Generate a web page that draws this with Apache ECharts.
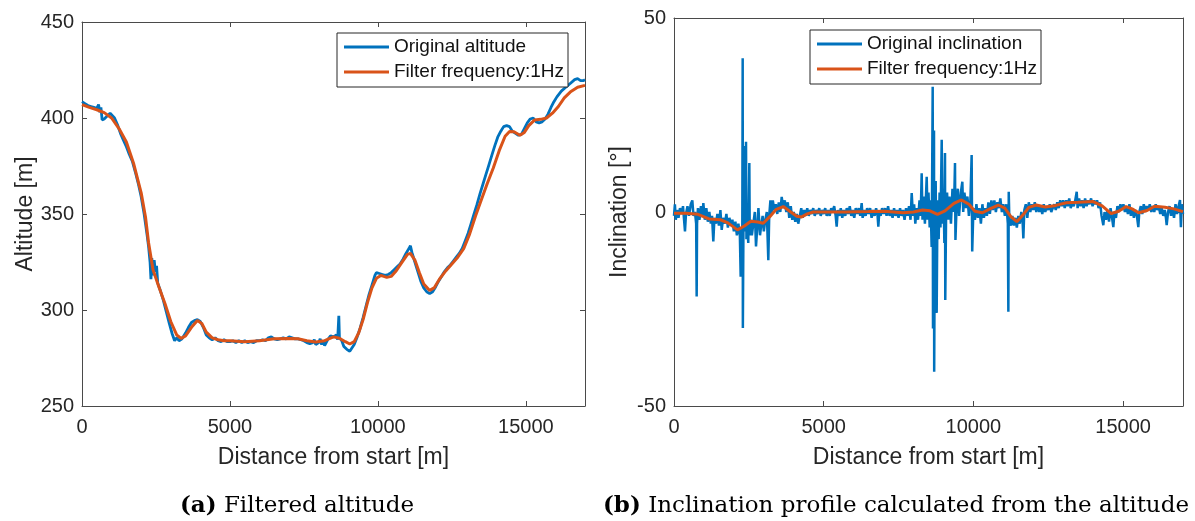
<!DOCTYPE html>
<html><head><meta charset="utf-8">
<script src="https://cdn.jsdelivr.net/npm/echarts@6/dist/echarts.min.js"></script>
<style>html,body{margin:0;padding:0;background:#fff}#c{width:1195px;height:521px}</style>
</head><body><div id="c"></div>
<script>
// ---------------- data ----------------
const xRange = [0, 17000];           // distance from start [m]
const xTickStep = 5000;
const altRange = [250, 450];
const altTickStep = 50;
const incRange = [-50, 50];
const incTickStep = 50;

const seriesNames = ['Original altitude', 'Filter frequency:1Hz', 'Original inclination'];
const captionA = ['(a)', 'Filtered altitude'];
const captionB = ['(b)', 'Inclination profile calculated from the altitude'];

// original altitude [distance, altitude]
const altRaw = [[0,408.5],[100,407.5],[200,406.5],[300,406],[400,405.5],[500,405],[560,407],[600,403],[640,405.5],[680,399],[750,399.5],[850,401],[950,402.5],[1000,402],[1100,400],[1200,396.5],[1300,392],[1400,388.5],[1500,385],[1600,381],[1700,377.5],[1800,372],[1900,366],[2000,359],[2100,350],[2200,339],[2250,333],[2300,325],[2330,316],[2360,327],[2400,318],[2440,326],[2480,320],[2520,323],[2560,314],[2650,310],[2750,305],[2850,299],[2950,293],[3050,287.5],[3130,284],[3200,285.5],[3280,284],[3380,285],[3500,288],[3600,291],[3700,293.5],[3800,294.5],[3900,295],[4000,294],[4100,291],[4200,287],[4300,285.5],[4400,284.5],[4500,285.5],[4600,284],[4700,283.5],[4800,284.5],[4900,283.5],[5000,283.5],[5100,284],[5200,283],[5300,284],[5400,283],[5500,284],[5600,283],[5700,283.5],[5800,283],[5900,284],[6000,284],[6100,284.5],[6200,284],[6300,285.5],[6400,286],[6500,285],[6600,284.5],[6700,285],[6800,285.5],[6900,285],[7000,286],[7100,285.5],[7200,285],[7300,285],[7400,284.5],[7500,284],[7600,283],[7700,282.5],[7800,283],[7850,284.5],[7900,282],[8000,283],[8050,285],[8100,282],[8150,284],[8200,281.5],[8300,284.5],[8400,286.5],[8500,286],[8600,287],[8640,284.5],[8680,297],[8700,285.5],[8780,284],[8850,281],[8900,282],[8950,279.5],[9000,280.5],[9050,278.5],[9100,279],[9200,282],[9300,286],[9400,290.5],[9500,296],[9600,302],[9700,308],[9800,313],[9900,318],[9950,319.5],[10050,319],[10150,318.5],[10250,318],[10350,318.5],[10450,319.5],[10550,321],[10650,322.5],[10750,324],[10850,326.5],[10950,329.5],[11050,332],[11100,333.5],[11150,330],[11250,325],[11350,320],[11450,315],[11550,311.5],[11650,309.5],[11750,308.5],[11850,309.5],[11950,312],[12050,315],[12150,317.5],[12250,320],[12350,322],[12450,323.5],[12550,325.5],[12650,327.5],[12750,329.5],[12850,332],[12950,336],[13050,340],[13150,345],[13250,350],[13350,355],[13450,360.5],[13550,365.5],[13650,370.5],[13750,375.5],[13850,380.5],[13950,385.5],[14050,390],[14150,393],[14250,395.5],[14350,396],[14450,395.5],[14550,393],[14650,392],[14750,391],[14850,391.5],[14950,394.5],[15050,397.5],[15150,399.5],[15250,400],[15350,398],[15450,397.5],[15550,398],[15650,399.5],[15750,402],[15850,405.5],[15950,408.5],[16050,411],[16200,414],[16350,416],[16500,418],[16650,420],[16750,420.5],[16850,419.5],[16950,419.5],[17000,420]];

// filtered altitude [distance, altitude]
const altFilt = [[0,407],[250,405.5],[500,404.3],[750,402.8],[1000,400],[1250,394.5],[1500,387.5],[1750,376],[2000,361],[2150,348],[2250,335],[2400,321],[2600,312],[2800,303.5],[3000,294],[3200,287],[3350,285.2],[3500,286.5],[3700,291],[3900,294.5],[4050,293],[4200,288.5],[4400,285.5],[4600,284.5],[4800,284],[5000,284],[5500,283.5],[6000,284],[6500,285],[7000,285.2],[7300,285],[7600,284],[7900,283.3],[8200,284],[8500,286],[8700,285.3],[8900,283.5],[9050,282.3],[9200,283.5],[9350,288],[9500,295],[9650,304],[9800,311.5],[9950,316.5],[10100,318],[10300,317],[10450,317.5],[10600,320],[10800,324.5],[11000,329],[11100,329.5],[11250,326],[11400,319.5],[11550,313.5],[11750,310.2],[11900,311.5],[12100,316.5],[12300,320.5],[12500,324],[12700,327.5],[12900,332],[13100,339.5],[13300,349],[13500,357.5],[13700,366],[13900,374],[14100,383],[14300,390.5],[14450,393],[14600,392.8],[14800,391],[14950,392.5],[15100,396],[15300,399],[15500,399.3],[15700,400],[15900,402.5],[16100,406],[16300,410.5],[16500,413.5],[16750,416],[17000,417]];

// original inclination [distance, degrees]
const incRaw = [[0,-1],[30,2],[60,-2],[100,0.5],[150,-1.5],[200,1],[260,-0.5],[300,1.5],[367,-5],[400,-0.5],[450,1.5],[500,-1],[560,2],[612,3],[650,-1],[700,0],[740,-3],[757,-21.8],[770,-3],[800,1],[850,-2],[900,1.5],[950,-1],[980,2.3],[1030,-2],[1080,1],[1130,-2.5],[1180,0],[1230,-3],[1270,-1],[1313,-7.6],[1350,-1.5],[1400,-3],[1450,-0.5],[1500,-3.5],[1550,0.5],[1593,-4.6],[1640,-1.5],[1700,-3],[1750,-0.5],[1800,-4],[1850,-1.5],[1900,-3.5],[1950,-2],[2000,-5],[2050,-2.5],[2100,-6],[2150,-3],[2200,-6],[2227,-16.7],[2250,-4],[2280,-8],[2294,39.6],[2300,-29.9],[2320,-3],[2340,17],[2360,-5],[2380,-2],[2405,18.1],[2420,-7],[2450,-3],[2480,-8],[2516,12.6],[2530,-6],[2570,-2],[2600,-6],[2650,-3],[2700,0],[2739,-8.9],[2780,-4],[2820,1],[2872,-6],[2920,-3],[2960,-1],[3000,-5],[3050,-2],[3100,0],[3150,-12.4],[3180,-1],[3220,3],[3260,-0.5],[3300,3],[3350,0.5],[3400,2],[3450,-0.5],[3500,2.5],[3550,0],[3597,3.9],[3650,1],[3700,3],[3750,0],[3800,2.5],[3850,-1.5],[3900,1.5],[3950,-2],[4000,0],[4050,-2.5],[4100,-0.5],[4150,-3],[4200,-1],[4250,1],[4300,-1.5],[4350,0.5],[4400,-1],[4450,1],[4500,-1],[4550,0.5],[4600,-0.5],[4650,1],[4700,-1],[4750,0.5],[4800,-0.5],[4850,1],[4900,-1],[4950,0.5],[5000,-0.5],[5050,1],[5100,-1],[5150,0.5],[5200,-1],[5250,1],[5300,0],[5350,1.5],[5400,-1],[5433,-3.8],[5470,0.5],[5520,-1],[5570,1],[5620,-1.5],[5670,0.5],[5720,-1],[5770,1],[5820,-0.5],[5870,1.5],[5920,-1],[5970,0.5],[6020,-1.5],[6070,1],[6120,-0.5],[6170,1],[6220,-1],[6268,2.3],[6300,-1.5],[6350,0.5],[6400,-1],[6450,1],[6500,-0.5],[6550,1],[6600,-1.5],[6650,0.5],[6700,-1],[6750,1],[6800,-1],[6824,-3.8],[6860,0.5],[6900,-1],[6950,1],[7000,-0.5],[7050,1],[7100,-1],[7150,1.5],[7200,-1],[7250,0.5],[7300,-1.5],[7350,1],[7400,-1],[7450,0.5],[7500,-1.5],[7550,1],[7600,-1],[7650,0.5],[7700,-2],[7750,1],[7800,-1],[7850,1.5],[7900,-2],[7939,4.9],[7980,-1],[8020,2],[8060,-3],[8100,1],[8150,-2],[8200,3],[8240,-1],[8272,10],[8300,-2],[8340,4],[8380,-3],[8440,9.1],[8470,-2],[8500,5],[8540,-4],[8570,3],[8605,-9],[8620,7],[8640,32.3],[8650,-30],[8670,5],[8684,21],[8690,-41.2],[8710,-5],[8740,8],[8773,-26],[8800,3],[8840,-7],[8870,5],[8900,-4],[8941,18.6],[8970,-3],[9000,6],[9030,-8],[9051,15.2],[9060,-22.7],[9090,1],[9120,5],[9160,-2],[9200,4],[9250,-3],[9300,6],[9350,0],[9385,12.6],[9400,-7.2],[9440,2],[9480,6],[9520,-1],[9580,5],[9630,7.8],[9660,0],[9700,5],[9750,1],[9800,4],[9850,-1],[9900,3],[9941,14.7],[9960,-10.2],[10000,1],[10050,-2],[10100,2],[10150,-1.5],[10200,1],[10250,-3],[10300,2],[10350,-1.5],[10400,1],[10450,-1],[10500,2.5],[10550,-0.5],[10600,3],[10650,0.5],[10700,3],[10750,0],[10800,2.5],[10850,1],[10900,3.5],[10950,0],[11000,2],[11050,-1],[11100,2],[11150,-3],[11167,-25.7],[11180,5.2],[11200,-2],[11250,-3.5],[11300,-1],[11350,-3.5],[11400,-1.5],[11450,-4],[11500,-1],[11550,-3],[11600,0],[11640,-2],[11668,-6.8],[11700,0.5],[11750,2],[11800,-1.5],[11850,2.5],[11900,0],[11950,2],[12000,0.5],[12050,2.5],[12100,0],[12150,2],[12200,0],[12250,1.5],[12300,-0.5],[12350,2],[12400,0],[12450,1.5],[12500,0.5],[12550,2],[12600,0],[12650,1],[12700,2],[12750,0.5],[12800,2.5],[12850,1],[12900,3],[12950,1.5],[13000,3],[13050,1],[13100,3],[13150,1.5],[13200,3.5],[13250,1],[13300,2.5],[13350,1.5],[13400,3],[13450,5.2],[13480,1],[13530,3.5],[13580,1.5],[13630,3],[13680,1],[13730,3.5],[13780,1.5],[13830,3],[13880,2],[13930,3.5],[13980,1.5],[14030,3],[14080,2],[14130,3],[14180,1],[14230,2.5],[14280,-1],[14339,-3.4],[14380,0],[14430,-2],[14480,0.5],[14530,-2.5],[14580,1],[14630,-1.5],[14673,-3.9],[14710,0],[14760,-1.5],[14810,1.5],[14860,0],[14910,2],[14960,0.5],[15010,2],[15060,0],[15110,1.5],[15160,-0.5],[15210,2],[15260,-1],[15310,1],[15360,-1.5],[15410,0.5],[15460,-1],[15508,-3.9],[15540,0],[15590,1.5],[15640,-0.5],[15690,2],[15740,0],[15790,1.5],[15840,0.5],[15890,2],[15940,0],[15990,1.5],[16040,0],[16090,2],[16140,0.5],[16190,1.5],[16240,-0.5],[16290,1],[16340,-1],[16390,0.5],[16430,-1.5],[16455,-3.4],[16500,0],[16550,1.5],[16600,-1],[16650,1],[16700,-1.5],[16750,2],[16800,-0.5],[16850,1.5],[16900,3.1],[16930,-3.9],[16960,2],[17000,-0.5]];

// filtered inclination [distance, degrees]
const incFilt = [[0,-0.3],[400,-0.3],[800,-0.6],[1170,-1.8],[1550,-2.0],[1800,-2.8],[2120,-4.6],[2350,-3.6],[2568,-2.4],[2800,-2.6],[2980,-2.9],[3200,-1.2],[3400,0.6],[3650,1.4],[3900,0.0],[4100,-1.1],[4250,-1.3],[4450,-0.5],[4650,0.0],[5000,0.0],[5750,0.0],[6500,0.1],[7017,0.2],[7653,-0.2],[8000,0.0],[8300,0.5],[8550,0.3],[8800,-0.6],[9050,0.3],[9350,2.2],[9600,3.1],[9850,2.0],[10050,0.2],[10300,-0.2],[10550,0.8],[10830,1.8],[11050,1.0],[11250,-1.2],[11450,-2.5],[11650,-0.8],[11850,1.2],[12100,1.8],[12400,1.3],[12750,1.7],[13100,2.4],[13500,2.5],[14000,2.7],[14300,1.6],[14600,-0.4],[14850,0.2],[15100,1.4],[15300,0.8],[15520,-0.2],[15800,0.4],[16050,1.5],[16400,1.2],[16700,0.8],[17000,0.1]];

// ---------------- style ----------------
const SANS = "'Liberation Sans', Arial, Helvetica, sans-serif";
const SERIF = "'DejaVu Serif', 'Liberation Serif', serif";
const BLUE = '#0072BD', ORANGE = '#D95319';
const AX = '#4a4a4a', TXT = '#262626';
const plain = v => String(v);

function xAx(grid, pos, withLabels) {
  return {
    gridIndex: grid, type: 'value', position: pos,
    min: xRange[0], max: xRange[1], interval: xTickStep,
    axisLine: { show: true, onZero: false, lineStyle: { color: AX, width: 1 } },
    axisTick: { show: true, inside: true, length: 5, lineStyle: { color: AX } },
    axisLabel: { show: withLabels, color: TXT, fontSize: 20, fontFamily: SANS, margin: 11, showMaxLabel: false, formatter: plain },
    splitLine: { show: false },
    name: withLabels ? 'Distance from start [m]' : '',
    nameLocation: 'middle', nameGap: 40,
    nameTextStyle: { color: TXT, fontSize: 23, fontFamily: SANS }
  };
}
function yAx(grid, pos, range, step, name, gap) {
  const lab = !!name;
  return {
    gridIndex: grid, type: 'value', position: pos,
    min: range[0], max: range[1], interval: step,
    axisLine: { show: true, onZero: false, lineStyle: { color: AX, width: 1 } },
    axisTick: { show: true, inside: true, length: 5, lineStyle: { color: AX } },
    axisLabel: { show: lab, color: TXT, fontSize: 20, fontFamily: SANS, margin: 8, formatter: plain },
    splitLine: { show: false },
    name: name || '', nameLocation: 'middle', nameGap: gap || 0,
    nameTextStyle: { color: TXT, fontSize: 23, fontFamily: SANS }
  };
}
function line(name, data, xi, yi, color, width, z) {
  return {
    type: 'line', name, data, xAxisIndex: xi, yAxisIndex: yi,
    symbol: 'none', showSymbol: false, smooth: false,
    lineStyle: { color, width }, itemStyle: { color }, z, animation: false
  };
}
const legendBase = {
  orient: 'vertical', icon: 'rect', itemWidth: 45, itemHeight: 3, itemGap: 5,
  padding: [4, 4, 5, 7], borderColor: '#262626', borderWidth: 1, backgroundColor: '#fff',
  textStyle: { color: '#111', fontSize: 19, fontFamily: SANS, lineHeight: 20 },
  selectedMode: false
};
const captionStyle = {
  fontFamily: SERIF, fontSize: 23, fontWeight: 'normal', color: '#000',
  rich: { b: { fontFamily: SERIF, fontSize: 23, fontWeight: 'bold', color: '#000' } }
};

const chart = echarts.init(document.getElementById('c'), null, { renderer: 'canvas' });
chart.setOption({
  animation: false,
  backgroundColor: '#fff',
  grid: [
    { left: 82, top: 22, width: 503, height: 384, containLabel: false },
    { left: 674, top: 18, width: 509, height: 388, containLabel: false }
  ],
  xAxis: [xAx(0, 'bottom', true), xAx(0, 'top', false), xAx(1, 'bottom', true), xAx(1, 'top', false)],
  yAxis: [
    yAx(0, 'left', altRange, altTickStep, 'Altitude [m]', 43),
    yAx(0, 'right', altRange, altTickStep, null),
    yAx(1, 'left', incRange, incTickStep, 'Inclination [°]', 43),
    yAx(1, 'right', incRange, incTickStep, null)
  ],
  legend: [
    Object.assign({}, legendBase, { left: 337, top: 33, data: [seriesNames[0], seriesNames[1]] }),
    Object.assign({}, legendBase, { left: 810, top: 30, data: [seriesNames[2], seriesNames[1]] })
  ],
  title: [
    { text: '{b|' + captionA[0] + '} ' + captionA[1], left: 292, top: 490, textAlign: 'center', textStyle: captionStyle },
    { text: '{b|' + captionB[0] + '} ' + captionB[1], left: 891, top: 490, textAlign: 'center', textStyle: captionStyle }
  ],
  series: [
    line(seriesNames[0], altRaw, 0, 0, BLUE, 2.8, 2),
    line(seriesNames[1], altFilt, 0, 0, ORANGE, 3, 3),
    line(seriesNames[2], incRaw, 2, 2, BLUE, 2.5, 2),
    line(seriesNames[1], incFilt, 2, 2, ORANGE, 3, 3)
  ]
});
</script>
</body></html>
